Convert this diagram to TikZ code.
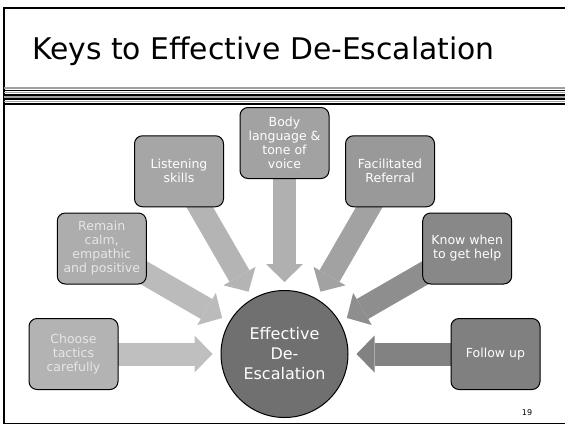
\documentclass[tikz,border=0pt]{standalone}
\usepackage{fontspec}
\setmainfont{DejaVu Sans}
\usetikzlibrary{arrows.meta,backgrounds}

\definecolor{boxA}{HTML}{B3B3B3}
\definecolor{boxB}{HTML}{ADADAD}
\definecolor{boxC}{HTML}{A6A6A6}
\definecolor{boxD}{HTML}{A2A2A2}
\definecolor{boxE}{HTML}{999999}
\definecolor{boxF}{HTML}{888888}
\definecolor{boxG}{HTML}{808080}
\definecolor{arrA}{HTML}{BFBFBF}
\definecolor{arrB}{HTML}{BBBBBB}
\definecolor{arrC}{HTML}{B4B4B4}
\definecolor{arrD}{HTML}{B0B0B0}
\definecolor{arrE}{HTML}{A2A2A2}
\definecolor{arrF}{HTML}{8E8E8E}
\definecolor{arrG}{HTML}{828282}
\definecolor{hubgray}{HTML}{707070}
\definecolor{paletxt}{HTML}{E6E6E6}
\definecolor{stripegray}{HTML}{A0A0A0}

\begin{document}
\begin{tikzpicture}[x=1pt, y=1pt,
    keybox/.style={draw=black, line width=1pt, rounded corners=8pt, minimum width=89pt,
      minimum height=71pt, align=center, inner sep=2pt, text=white,
      font=\fontsize{12.5}{14}\selectfont},
    hub/.style={circle, draw=black, line width=1pt, fill=hubgray, minimum size=127pt,
      align=center, text=white, font=\fontsize{16}{20}\selectfont},
    fatarrow/.style={line width=23pt, -{Triangle[length=18pt, width=37pt, line width=0pt]},
      shorten >=8pt}]
  \useasboundingbox (0,0) rectangle (565,-426);

  % slide frame and header rule
  \draw[line width=1.6pt] (565,-8) -- (4,-8) -- (4,-423.5) -- (565,-423.5);
  \foreach \y in {90.4, 94.9, 99.2, 104.3}
    \draw[line width=1.8pt] (4,-\y) -- (565,-\y);
  \foreach \y in {88, 92.6, 97, 101.6}
    \draw[stripegray, line width=1.2pt] (4,-\y) -- (565,-\y);

  \node[anchor=base west, inner sep=0pt, font=\fontsize{29.8}{34}\selectfont] (title)
    at (32,-59.5) {Keys to Effective De-Escalation};

  % hub and keys
  \node[hub] (eff) at (284.5,-354) {Effective\\De-\\Escalation};
  \node[keybox, fill=boxA, text=paletxt] (chs) at ([shift={(180:211)}]eff.center) {Choose\\tactics\\carefully};
  \node[keybox, fill=boxB, text=paletxt] (rmn) at ([shift={(150:211)}]eff.center) {Remain\\calm,\\empathic\\and positive};
  \node[keybox, fill=boxC] (lst) at ([shift={(120:211)}]eff.center) {Listening\\skills};
  \node[keybox, fill=boxD] (bdy) at ([shift={(90:211)}]eff.center) {Body\\language \&\\tone of\\voice};
  \node[keybox, fill=boxE] (ref) at ([shift={(60:211)}]eff.center) {Facilitated\\Referral};
  \node[keybox, fill=boxF] (hlp) at ([shift={(30:211)}]eff.center) {Know when\\to get help};
  \node[keybox, fill=boxG] (fol) at ([shift={(0:211)}]eff.center) {Follow up};

  \node[font=\fontsize{8}{10}\selectfont] (pg) at (527,-413) {19};

  \begin{scope}[on background layer]
    \fill[white] (0,0) rectangle (565,-426);
    \foreach \nm/\col in {chs/arrA, rmn/arrB, lst/arrC, bdy/arrD, ref/arrE, hlp/arrF, fol/arrG}
      \draw[fatarrow, \col] (\nm.center) -- (eff);
  \end{scope}
\end{tikzpicture}
\end{document}
